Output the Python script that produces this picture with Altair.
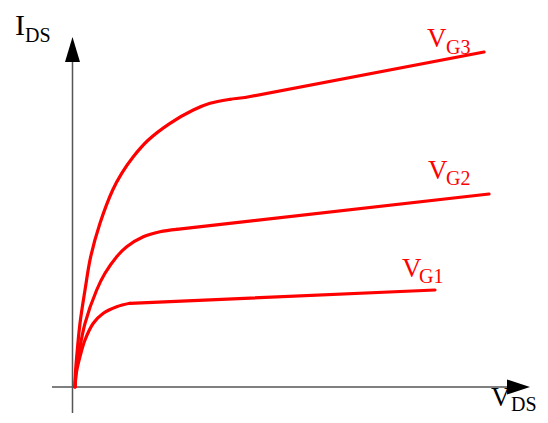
import altair as alt
import pandas as pd

# ---- data (units: origin at the axes crossing) ----
# rising (curved) part of each curve
vg1_vds = [0, 1.5, 5, 10, 18.3, 28.3, 41.7, 55]
vg1_ids = [0, 15, 30.3, 47, 63.7, 73.7, 80.3, 83.7]
vg2_vds = [0, 1, 3.3, 10, 21.7, 30, 41.7, 51.7, 68.3, 85, 101.7]
vg2_ids = [0, 15, 30.3, 63.7, 97, 113.7, 130.3, 140.3, 150.3, 155.3, 157.7]
vg3_vds = [0, 0.5, 1.7, 5, 10, 15.7, 25, 37.7, 46.7, 58.3, 73.3, 95, 118.3, 135, 155, 170]
vg3_ids = [0, 15, 30.3, 63.7, 97, 130.3, 163.7, 197, 213.7, 230.3, 247, 263.7, 277, 283.7, 287.7, 289.5]
# end of the straight (saturation) part of each curve
sat_end_vds = [360, 414, 409]
sat_end_ids = [97, 193, 335]

curve_names = ["VG1", "VG2", "VG3"]

# label texts (main letter + subscript) and their anchors
label_main = ["V", "V", "V", "I", "V"]
label_sub = ["G1", "G2", "G3", "DS", "DS"]
label_main_x = [327, 353, 352, -60, 416]
label_main_y = [110, 208, 340, 352, -19]
label_sub_x = [344, 371, 371, -50, 436]
label_sub_y = [104, 202, 333.5, 345, -24]
label_color = ["red", "red", "red", "black", "black"]

# axes extents
x_domain = [-67, 465]
y_domain = [-28, 379]

rise_rows = []
flat_rows = []
rises = [(vg1_vds, vg1_ids), (vg2_vds, vg2_ids), (vg3_vds, vg3_ids)]
for k, name in enumerate(curve_names):
    xs_, ys_ = rises[k]
    for i, (a, b) in enumerate(zip(xs_, ys_)):
        rise_rows.append({"curve": name, "vds": a, "ids": b, "order": i})
    flat_rows.append({"curve": name, "vds": xs_[-1], "ids": ys_[-1], "order": 0})
    flat_rows.append({"curve": name, "vds": sat_end_vds[k], "ids": sat_end_ids[k], "order": 1})
rise_df = pd.DataFrame(rise_rows)
flat_df = pd.DataFrame(flat_rows)

xs = alt.Scale(domain=x_domain, nice=False, zero=False)
ys = alt.Scale(domain=y_domain, nice=False, zero=False)

enc = dict(
    x=alt.X("vds:Q", scale=xs, axis=None),
    y=alt.Y("ids:Q", scale=ys, axis=None),
    detail="curve:N",
    order="order:Q",
)
rise_lines = alt.Chart(rise_df).mark_line(
    color="#ff0000", strokeWidth=3.2, interpolate="catmull-rom", strokeCap="round"
).encode(**enc)
flat_lines = alt.Chart(flat_df).mark_line(
    color="#ff0000", strokeWidth=3.2, strokeCap="round"
).encode(**enc)

axes_df = pd.DataFrame({
    "x": [-2.5, -23], "x2": [-2.5, 432],
    "y": [-26, 0], "y2": [325, 0],
})
axis_lines = alt.Chart(axes_df).mark_rule(color="#555555", strokeWidth=1.5).encode(
    x=alt.X("x:Q", scale=xs, axis=None), x2="x2:Q",
    y=alt.Y("y:Q", scale=ys, axis=None), y2="y2:Q",
)

arrow_up = alt.Chart(pd.DataFrame({"x": [-2.5], "y": [325]})).mark_point(
    shape="M0,-1L0.3,0L-0.3,0Z", size=2500, filled=True, fill="black",
    strokeWidth=0, opacity=1,
).encode(x=alt.X("x:Q", scale=xs, axis=None), y=alt.Y("y:Q", scale=ys, axis=None))

arrow_right = alt.Chart(pd.DataFrame({"x": [432], "y": [0]})).mark_point(
    shape="M0.92,0L0,-0.3L0,0.3Z", size=2500, filled=True, fill="black",
    strokeWidth=0, opacity=1,
).encode(x=alt.X("x:Q", scale=xs, axis=None), y=alt.Y("y:Q", scale=ys, axis=None))

labels = pd.DataFrame({
    "main": label_main, "sub": label_sub,
    "mx": label_main_x, "my": label_main_y,
    "sx": label_sub_x, "sy": label_sub_y,
    "color": label_color,
})

main_text = alt.Chart(labels).mark_text(
    font="Liberation Serif", fontSize=27, align="left", baseline="alphabetic"
).encode(
    x=alt.X("mx:Q", scale=xs, axis=None),
    y=alt.Y("my:Q", scale=ys, axis=None),
    text="main:N",
    color=alt.Color("color:N", scale=None),
)
main_text_i = main_text.transform_filter("datum.main == 'I'").mark_text(
    font="Liberation Serif", fontSize=30, align="left", baseline="alphabetic")
main_text_v = main_text.transform_filter("datum.main == 'V'")

sub_text = alt.Chart(labels).mark_text(
    font="Liberation Serif", fontSize=20, align="left", baseline="alphabetic"
).encode(
    x=alt.X("sx:Q", scale=xs, axis=None),
    y=alt.Y("sy:Q", scale=ys, axis=None),
    text="sub:N",
    color=alt.Color("color:N", scale=None),
)

chart = alt.layer(
    axis_lines, arrow_up, arrow_right, rise_lines, flat_lines,
    main_text_v, main_text_i, sub_text
).properties(
    width=532, height=407, autosize=alt.AutoSizeParams(type="none"), padding=0
).configure_view(stroke=None)

chart.save("out.html", embed_options={"renderer": "svg", "actions": False})
